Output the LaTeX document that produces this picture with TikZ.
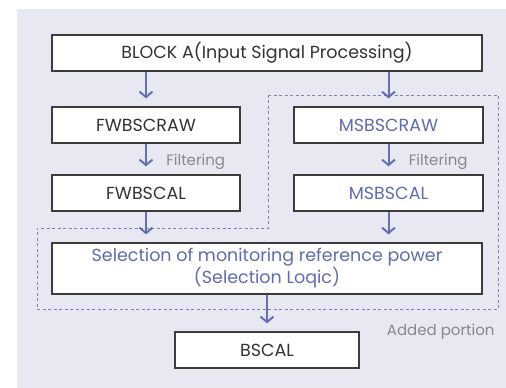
\documentclass[tikz,border=0pt]{standalone}
\usepackage{fontspec}
\setmainfont{Poppins}
\usetikzlibrary{arrows.meta}
\definecolor{bgcol}{RGB}{232,232,243}
\definecolor{arrcol}{RGB}{100,112,176}
\definecolor{bluetxt}{RGB}{95,108,175}
\definecolor{boxline}{RGB}{60,60,60}
\definecolor{graytxt}{RGB}{135,135,140}
\begin{document}
\begin{tikzpicture}[x=1pt,y=-1pt,
  box/.style={draw=boxline, line width=1.2pt, fill=white, inner sep=0pt,
    minimum height=36pt, text=black!80, font=\fontsize{17.5}{20}\selectfont},
  arr/.style={draw=arrcol, line width=2pt, shorten >=8pt,
    -{Straight Barb[length=5.5pt,width=13pt]}},
  note/.style={text=graytxt, font=\fontsize{15}{17}\selectfont}]
\useasboundingbox (0,0) rectangle (506,388);
\fill[bgcol] (17,9) rectangle (506,388);
\node[box, minimum width=430pt] (blocka) at (267,53){BLOCK A(Input Signal Processing)};
\node[box, minimum width=188pt] (fwraw) at (146,125){FWBSCRAW};
\node[box, minimum width=189pt, text=bluetxt] (msraw) at (388.5,125){MSBSCRAW};
\node[box, minimum width=188pt] (fwcal) at (146,193){FWBSCAL};
\node[box, minimum width=189pt, text=bluetxt] (mscal) at (388.5,193){MSBSCAL};
\node[box, minimum width=430pt, minimum height=51pt, text=bluetxt, align=center] (sel) at (267,268.5)
  {Selection of monitoring reference power\\(Selection Loqic)};
\node[box, minimum width=184pt] (bscal) at (267,350){BSCAL};
% added part
\draw[arrcol!85, line width=0.9pt, dash pattern=on 3pt off 2.5pt]
  (268,95) -- (498,95) -- (498,309) -- (37,309) -- (37,228) -- (268,228) -- cycle;
\node[note, anchor=east] (added) at (498,332){Added portion};
\foreach \from/\to in {blocka/fwraw,blocka/msraw}
\draw[arr] (\to.north |- \from.south) -- (\to.north);
\foreach \from/\to in {fwcal/sel,mscal/sel,sel/bscal}
\draw[arr] (\from.south) -- (\from.south |- \to.north);
\foreach \from/\to in {fwraw/fwcal,msraw/mscal}
\draw[arr] (\from.south) -- (\to.north)
  node[note, midway, anchor=west, xshift=16pt, yshift=-3pt]{Filtering};
\end{tikzpicture}
\end{document}
